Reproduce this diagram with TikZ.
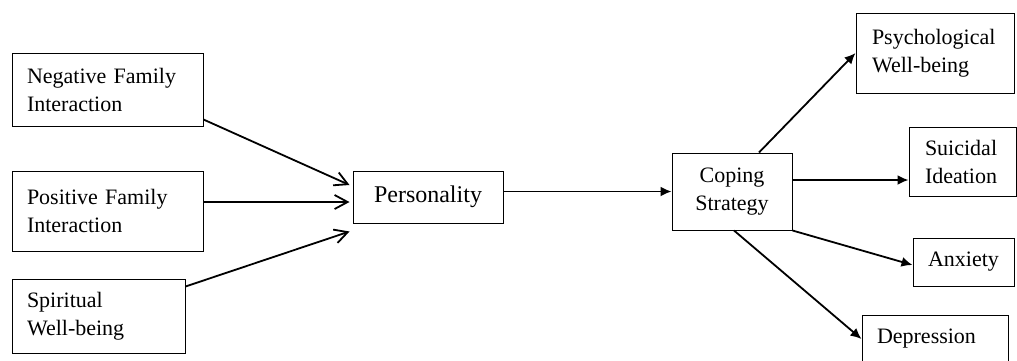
\documentclass[tikz,border=0pt]{standalone}
\usepackage{fontspec}
\setmainfont{Liberation Serif}
\usetikzlibrary{arrows.meta}
\hyphenpenalty=10000

\begin{document}
\begin{tikzpicture}[x=0.5pt,y=-0.5pt,line width=0.9pt]
  \tikzstyle{box}=[draw, rectangle, line width=0.5pt, inner xsep=7.5pt,
font=\fontsize{11}{14}\selectfont]
  \tikzstyle{lbox}=[box, align=left]
  \tikzstyle{cbox}=[box, align=center]
  \tikzstyle{barb}=[-{Straight Barb[length=6.5pt,width=7pt]}]
  \tikzstyle{head}=[-{Latex[length=5.5pt,width=5pt]}]
  \useasboundingbox (0,0) rectangle (1017,360);
  \clip (0,0) rectangle (1017,360);

  \node[lbox, text width=80.5pt, minimum height=36.5pt] (X_1) at (107.5,89.5) {Negative Family\\Interaction};
  \node[lbox, text width=80.5pt, minimum height=40pt] (X_2) at (107.5,211) {Positive Family\\Interaction};
  \node[lbox, text width=71.5pt, minimum height=37pt] (X_3) at (98.5,316) {Spiritual\\Well-being};
  \node[cbox, minimum width=75pt, minimum height=26pt, font=\fontsize{12}{14}\selectfont] (M_1) at (428,197) {Personality};
  \node[cbox, minimum width=60pt, minimum height=38.5pt] (M_2) at (732,191.5) {Coping\\Strategy};
  \node[lbox, inner xsep=8pt, text width=63pt, minimum height=40pt] (Y_1) at (935,53) {Psychological\\Well-being};
  \node[lbox, inner xsep=8pt, text width=37.5pt, minimum height=34.5pt] (Y_2) at (962.5,161.5) {Suicidal\\Ideation};
  \node[lbox, text width=35.5pt, minimum height=24pt] (Y_3) at (963.5,262) {Anxiety};
  \node[lbox, text width=58pt, minimum height=24pt] (Y_4) at (935,339) {Depression};

  \draw[barb] ([yshift=3.5pt]X_1.south east) -- ([xshift=-1.5pt,yshift=6pt]M_1.west);
  \draw[barb] ([yshift=4.5pt]X_2.east) -- ([xshift=-1.5pt,yshift=4.5pt]X_2.east -| M_1.west);
  \draw[barb] ([yshift=-4pt]X_3.north east) -- ([xshift=-1.5pt,yshift=-4pt]M_1.south west);
  \draw[head] (M_1.east |- M_2.west) -- (M_2.west);
  \draw[head] ([xshift=13.5pt]M_2.north) -- (Y_1.west);
  \draw[head] ([yshift=5.75pt]M_2.east) -- ([yshift=-9.25pt]Y_2.west);
  \draw[head] (M_2.south east) -- ([yshift=-1.5pt]Y_3.west);
  \draw[head] ([xshift=1pt]M_2.south) -- (Y_4.west);
\end{tikzpicture}
\end{document}
